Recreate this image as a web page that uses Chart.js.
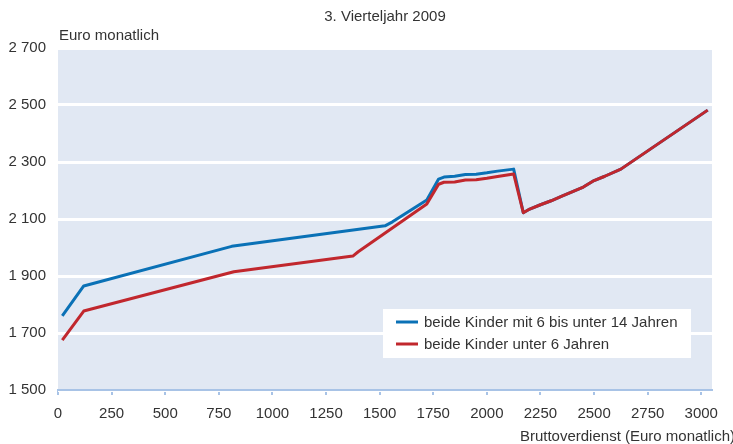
<!DOCTYPE html>
<html>
<head>
<meta charset="utf-8">
<script src="https://cdn.jsdelivr.net/npm/chart.js@4"></script>
<style>
  html, body { margin:0; padding:0; background:#fff; }
  #wrap { width:733px; height:444px; }
</style>
</head>
<body>
<div id="wrap"><canvas id="chart" width="733" height="444"></canvas></div>
<script>
// Daten
const titleText = "3. Vierteljahr 2009";
const yTitle = "Euro monatlich";
const xTitle = "Bruttoverdienst (Euro monatlich)";
const seriesNames = ["beide Kinder mit 6 bis unter 14 Jahren", "beide Kinder unter 6 Jahren"];

const blueX = [20, 120, 810, 1525, 1560, 1720, 1775, 1800, 1850, 1900, 1950, 2000, 2050, 2125, 2170, 2200, 2250, 2300, 2350, 2400, 2450, 2500, 2550, 2625, 3030];
const blueY = [1760, 1865, 2004, 2076, 2090, 2167, 2240, 2247, 2250, 2256, 2257, 2262, 2268, 2275, 2122, 2135, 2150, 2164, 2180, 2196, 2212, 2235, 2250, 2275, 2482];

const redX = [20, 120, 820, 1375, 1400, 1720, 1775, 1800, 1850, 1900, 1950, 2000, 2050, 2125, 2170, 2200, 2250, 2300, 2350, 2400, 2450, 2500, 2550, 2625, 3030];
const redY = [1675, 1777, 1915, 1970, 1985, 2153, 2222, 2229, 2230, 2237, 2238, 2243, 2249, 2258, 2122, 2135, 2150, 2164, 2180, 2196, 2212, 2235, 2250, 2275, 2482];

const xTicks = [0, 250, 500, 750, 1000, 1250, 1500, 1750, 2000, 2250, 2500, 2750, 3000];
const yTicks = [1500, 1700, 1900, 2100, 2300, 2500, 2700];

const BLUE = "#0a71b6";
const RED = "#c1272d";
const TEXT = "#333333";
const FONT = "15px 'Liberation Sans', Arial, sans-serif";

function pts(xs, ys){ return xs.map((x,i)=>({x:x, y:ys[i]})); }

// Hintergrund, Titel, Legende
const decor = {
  id: "decor",
  beforeDraw(chart){
    const {ctx, chartArea:a} = chart;
    ctx.save();
    ctx.fillStyle = "#e1e8f3";
    ctx.fillRect(a.left, a.top, a.right-a.left, a.bottom-a.top);
    ctx.restore();
  },
  afterDraw(chart){
    const {ctx, chartArea:a} = chart;
    ctx.save();
    ctx.fillStyle = TEXT;
    ctx.font = FONT;
    ctx.textBaseline = "middle";
    ctx.textAlign = "center";
    ctx.fillText(titleText, (a.left+a.right)/2, 17);
    ctx.textAlign = "left";
    ctx.fillText(yTitle, a.left+1, 36);
    ctx.textAlign = "right";
    ctx.fillText(xTitle, 735, 437);

    // Legende
    ctx.fillStyle = "#ffffff";
    ctx.fillRect(383, 309, 308, 49);
    ctx.lineWidth = 3;
    [[BLUE, 322], [RED, 344]].forEach(([c, y], i)=>{
      ctx.strokeStyle = c;
      ctx.beginPath(); ctx.moveTo(396, y); ctx.lineTo(418, y); ctx.stroke();
      ctx.fillStyle = TEXT;
      ctx.textAlign = "left";
      ctx.fillText(seriesNames[i], 424, y+1);
    });
    ctx.restore();
  }
};

new Chart(document.getElementById("chart"), {
  type: "line",
  data: {
    datasets: [
      { label: seriesNames[0], data: pts(blueX, blueY), borderColor: BLUE, borderWidth: 3, pointRadius: 0, tension: 0, order: 2, borderJoinStyle: "round" },
      { label: seriesNames[1], data: pts(redX, redY), borderColor: RED, borderWidth: 3, pointRadius: 0, tension: 0, order: 1, borderJoinStyle: "round" }
    ]
  },
  options: {
    responsive: false,
    animation: false,
    layout: { padding: { top: 48, right: 21, left: 0, bottom: 0 } },
    plugins: { legend: { display: false }, title: { display: false }, tooltip: { enabled: false } },
    scales: {
      x: {
        type: "linear",
        min: 0, max: 3050,
        afterFit(s){ s.height = 54; },
        afterBuildTicks(s){ s.ticks = xTicks.map(v=>({value:v})); },
        ticks: { color: TEXT, font: { size: 15, family: "'Liberation Sans', Arial, sans-serif" }, padding: 10, maxRotation: 0,
          callback: v => String(v) },
        grid: { drawOnChartArea: false, drawTicks: true, tickLength: 5, color: "#a8c3e6", lineWidth: 2 },
        border: { display: true, color: "#a8c3e6", width: 2 }
      },
      y: {
        min: 1500, max: 2700,
        afterFit(s){ s.width = 58; },
        afterBuildTicks(s){ s.ticks = yTicks.map(v=>({value:v})); },
        ticks: {
          color: TEXT, font: { size: 15, family: "'Liberation Sans', Arial, sans-serif" }, padding: 12,
          callback: v => String(v).replace(/\B(?=(\d{3})+(?!\d))/g, " ")
        },
        grid: { color: "#ffffff", lineWidth: 3, drawTicks: false },
        border: { display: false }
      }
    }
  },
  plugins: [decor]
});
</script>
</body>
</html>
